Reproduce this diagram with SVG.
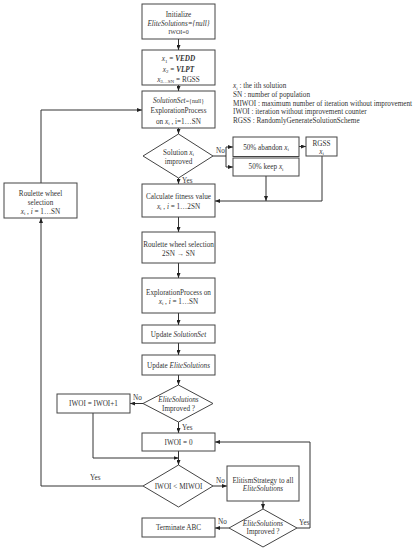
<svg xmlns="http://www.w3.org/2000/svg" width="416" height="550" viewBox="0 0 416 550">
<defs>
<marker id="ah" markerWidth="5" markerHeight="4" refX="5" refY="2" orient="auto" markerUnits="userSpaceOnUse">
<path d="M0,0 L5,2 L0,4 Z" fill="#222"/>
</marker>
<style>
.b{fill:#fff;stroke:#444;stroke-width:1}
.t{font-family:"Liberation Serif","Times New Roman",serif;font-size:7.2px;fill:#333;text-anchor:middle}
.l{font-family:"Liberation Serif","Times New Roman",serif;font-size:7.2px;fill:#333}
.i{font-style:italic}
.s{font-size:5px}
.c{fill:none;stroke:#333;stroke-width:1}
.a{fill:none;stroke:#333;stroke-width:1;marker-end:url(#ah)}
</style>
</defs>
<rect width="416" height="550" fill="#fff"/>

<g id="connectors">
<line class="a" x1="178.5" y1="39" x2="178.5" y2="50"/>
<line class="a" x1="178.5" y1="85" x2="178.5" y2="91"/>
<line class="a" x1="178.5" y1="128" x2="178.5" y2="134"/>
<line class="a" x1="178.5" y1="178" x2="178.5" y2="184"/>
<polyline class="c" points="213,156 226,156"/>
<polyline class="a" points="226,156 226,147 233,147"/>
<polyline class="a" points="226,156 226,167 233,167"/>
<line class="a" x1="299" y1="146.5" x2="306" y2="146.5"/>
<polyline class="a" points="322,156 322,201 215,201"/>
<line class="a" x1="266" y1="176" x2="266" y2="201"/>
<line class="a" x1="178.5" y1="217" x2="178.5" y2="232"/>
<line class="a" x1="178.5" y1="263" x2="178.5" y2="278"/>
<line class="a" x1="178.5" y1="313" x2="178.5" y2="325"/>
<line class="a" x1="178.5" y1="343" x2="178.5" y2="355"/>
<line class="a" x1="178.5" y1="375" x2="178.5" y2="385"/>
<line class="a" x1="143" y1="403.5" x2="130" y2="403.5"/>
<line class="a" x1="178.5" y1="422" x2="178.5" y2="433"/>
<polyline class="a" points="93,413 93,458 178.5,458"/>
<line class="a" x1="178.5" y1="451" x2="178.5" y2="465"/>
<polyline class="a" points="143,486 41,486 41,218"/>
<polyline class="a" points="41,183 41,110 142,110"/>
<line class="a" x1="213" y1="486" x2="227" y2="486"/>
<line class="a" x1="263" y1="501" x2="263" y2="509"/>
<polyline class="a" points="297,528 310,528 310,442 215,442"/>
<line class="a" x1="229" y1="528" x2="215" y2="528"/>
<text class="l" x="216" y="153">No</text>
<text class="l" x="182" y="183">Yes</text>
<text class="l" x="133" y="400">No</text>
<text class="l" x="182" y="429.5">Yes</text>
<text class="l" x="90" y="479.5">Yes</text>
<text class="l" x="216" y="483">No</text>
<text class="l" x="299" y="525">Yes</text>
<text class="l" x="218" y="524">No</text>
</g>

<g id="init">
<rect class="b" x="142" y="4" width="73" height="35"/>
<text class="t" x="178.5" y="16.5">Initialize</text>
<text class="t" x="178.5" y="25.5"><tspan class="i">EliteSolutions={null}</tspan></text>
<text class="t" x="178.5" y="33.5" style="font-size:6px">IWOI=0</text>
</g>

<g id="assign">
<rect class="b" x="142" y="50" width="73" height="35"/>
<text class="t" x="178.5" y="61"><tspan class="i">x</tspan><tspan class="s" dy="1.5">1</tspan><tspan dy="-1.5"> = </tspan><tspan class="i" font-weight="bold">VEDD</tspan></text>
<text class="t" x="178.5" y="71.5"><tspan class="i">x</tspan><tspan class="s" dy="1.5">2</tspan><tspan dy="-1.5"> = </tspan><tspan class="i" font-weight="bold">VLPT</tspan></text>
<text class="t" x="178.5" y="81.5"><tspan class="i">x</tspan><tspan class="s" dy="1.5">3…SN</tspan><tspan dy="-1.5"> = RGSS</tspan></text>
</g>

<g id="legend">
<text class="l" x="233" y="88"><tspan class="i">x</tspan><tspan class="s" dy="1.5">i</tspan><tspan dy="-1.5"> : the ith solution</tspan></text>
<text class="l" x="233" y="96.8">SN : number of population</text>
<text class="l" x="233" y="105.6">MIWOI : maximum number of iteration without improvement</text>
<text class="l" x="233" y="114.4">IWOI : iteration without improvement counter</text>
<text class="l" x="233" y="123.2">RGSS : RandomlyGenerateSolutionScheme</text>
</g>

<g id="explore1">
<rect class="b" x="142" y="91" width="73" height="37"/>
<text class="t" x="178.5" y="102.5"><tspan class="i">SolutionSet</tspan><tspan style="font-size:6px">={null}</tspan></text>
<text class="t" x="178.5" y="112.5">ExplorationProcess</text>
<text class="t" x="178.5" y="123.5">on  <tspan class="i">x</tspan><tspan class="s" dy="1.5">i</tspan><tspan dy="-1.5"> , i=1…SN</tspan></text>
</g>

<g id="improved1">
<polygon class="b" points="178.5,134 213,156 178.5,178 143,156"/>
<text class="t" x="178.5" y="154.5">Solution <tspan class="i">x</tspan><tspan class="s" dy="1.5">i</tspan></text>
<text class="t" x="178.5" y="164">improved</text>
</g>

<g id="abandon">
<rect class="b" x="233" y="137" width="66" height="19.5"/>
<text class="t" x="266" y="149.5">50% abandon  <tspan class="i">x</tspan><tspan class="s" dy="1.5">i</tspan></text>
</g>

<g id="keep">
<rect class="b" x="233" y="158" width="66" height="18"/>
<text class="t" x="266" y="169">50% keep  <tspan class="i">x</tspan><tspan class="s" dy="1.5">i</tspan></text>
</g>

<g id="rgss">
<rect class="b" x="306" y="137" width="31" height="19"/>
<text class="t" x="321.5" y="145.5">RGSS</text>
<text class="t" x="321.5" y="153.5"><tspan class="i">x</tspan><tspan class="s" dy="1.5">i</tspan></text>
</g>

<g id="fitness">
<rect class="b" x="142" y="184" width="73" height="33"/>
<text class="t" x="178.5" y="198.5">Calculate fitness value</text>
<text class="t" x="178.5" y="208.5"><tspan class="i">x</tspan><tspan class="s" dy="1.5">i</tspan><tspan dy="-1.5"> , </tspan><tspan class="i">i</tspan> = 1…2SN</text>
</g>

<g id="roulette">
<rect class="b" x="142" y="232" width="73" height="31"/>
<text class="t" x="178.5" y="246.5">Roulette wheel selection</text>
<text class="t" x="178.5" y="255.5">2SN → SN</text>
</g>

<g id="explore2">
<rect class="b" x="142" y="278" width="73" height="35"/>
<text class="t" x="178.5" y="295">ExplorationProcess on</text>
<text class="t" x="178.5" y="303.5"><tspan class="i">x</tspan><tspan class="s" dy="1.5">i</tspan><tspan dy="-1.5"> , </tspan><tspan class="i">i</tspan> = 1…SN</text>
</g>

<g id="updateSet">
<rect class="b" x="142" y="325" width="73" height="18"/>
<text class="t" x="178.5" y="336.5">Update <tspan class="i">SolutionSet</tspan></text>
</g>

<g id="updateElite">
<rect class="b" x="142" y="355" width="73" height="20"/>
<text class="t" x="178.5" y="367.5">Update <tspan class="i">EliteSolutions</tspan></text>
</g>

<g id="improved2">
<polygon class="b" points="178.5,385 213,403.5 178.5,422 143,403.5"/>
<text class="t" x="178.5" y="401.5"><tspan class="i">EliteSolutions</tspan></text>
<text class="t" x="178.5" y="410.5">Improved ?</text>
</g>

<g id="iwoiInc">
<rect class="b" x="57" y="394" width="73" height="19"/>
<text class="t" x="93.5" y="406">IWOI = IWOI+1</text>
</g>

<g id="iwoiZero">
<rect class="b" x="142" y="433" width="73" height="18"/>
<text class="t" x="178.5" y="444.5">IWOI = 0</text>
</g>

<g id="check">
<polygon class="b" points="178.5,465 213,486 178.5,507 143,486"/>
<text class="t" x="178.5" y="488.5">IWOI &lt; MIWOI</text>
</g>

<g id="leftRoulette">
<rect class="b" x="4" y="183" width="73" height="35"/>
<text class="t" x="40.5" y="195.5">Roulette wheel</text>
<text class="t" x="40.5" y="204.5">selection</text>
<text class="t" x="40.5" y="213.5"><tspan class="i">x</tspan><tspan class="s" dy="1.5">i</tspan><tspan dy="-1.5"> , </tspan><tspan class="i">i</tspan> = 1…SN</text>
</g>

<g id="elitism">
<rect class="b" x="227" y="466" width="72" height="35"/>
<text class="t" x="263" y="482.5">ElitismStrategy to all</text>
<text class="t" x="263" y="491"><tspan class="i">EliteSolutions</tspan></text>
</g>

<g id="improved3">
<polygon class="b" points="263,509 297,528 263,547 229,528"/>
<text class="t" x="263" y="525.5"><tspan class="i">EliteSolutions</tspan></text>
<text class="t" x="263" y="534">Improved ?</text>
</g>

<g id="terminate">
<rect class="b" x="142" y="518" width="73" height="19"/>
<text class="t" x="178.5" y="530">Terminate ABC</text>
</g>
</svg>
